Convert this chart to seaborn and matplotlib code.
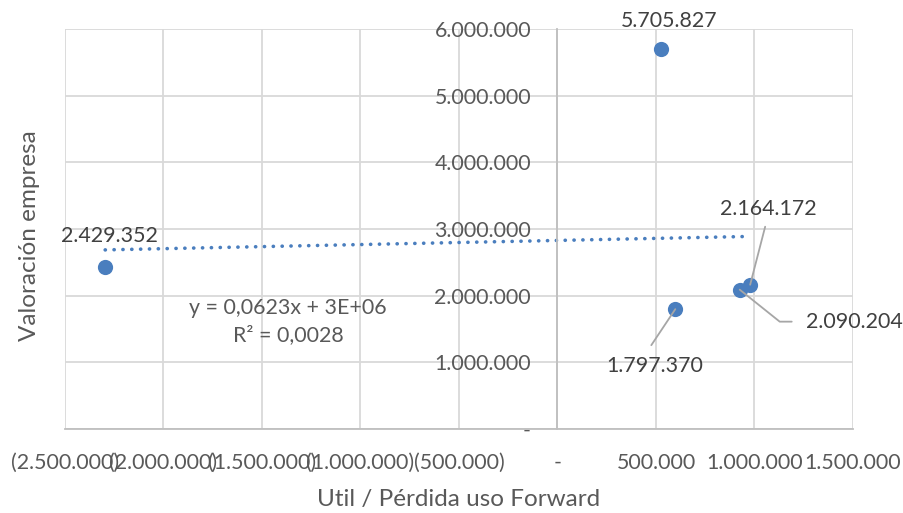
import numpy as np
import pandas as pd
import matplotlib
matplotlib.use("Agg")
import matplotlib.pyplot as plt
from matplotlib.lines import Line2D
import seaborn as sns
from matplotlib.ticker import FixedLocator, FuncFormatter

sns.set_theme(style="white")
plt.rcParams["font.family"] = ["Lato", "DejaVu Sans"]

# Data: forward-contract gain/loss vs. company valuation
util_forward = [-2296000, 524500, 598000, 925000, 978000]
valoracion = [2429352, 5705827, 1797370, 2090204, 2164172]
etiquetas = ["2.429.352", "5.705.827", "1.797.370", "2.090.204", "2.164.172"]

x_ticks = [-2500000, -2000000, -1500000, -1000000, -500000, 0, 500000, 1000000, 1500000]
y_ticks = [0, 1000000, 2000000, 3000000, 4000000, 5000000, 6000000]

df = pd.DataFrame({"x": util_forward, "y": valoracion})

TEXT = "#595959"
LABEL = "#404040"
GRID = "#D9D9D9"
LEADER = "#A6A6A6"
BLUE = "#4A7EBE"
FS = 15.4


def fmt_num(v, _pos=None):
    if v == 0:
        return "-"
    s = f"{abs(int(round(v))):,}".replace(",", ".")
    return f"({s})" if v < 0 else s


fig = plt.figure(figsize=(9.04, 5.13), dpi=100)
ax = fig.add_axes([65 / 904, 1 - 429 / 513, (853 - 65) / 904, (429 - 29) / 513])

ax.set_xlim(-2500000, 1500000)
ax.set_ylim(0, 6000000)
ax.xaxis.set_major_locator(FixedLocator(x_ticks))
ax.yaxis.set_major_locator(FixedLocator(y_ticks))
ax.grid(True, color=GRID, linewidth=1.3)
ax.set_axisbelow(True)

for side in ["top", "right"]:
    ax.spines[side].set_visible(False)
ax.spines["left"].set_position(("data", 0))
ax.spines["left"].set_color("#BFBFBF")
ax.spines["left"].set_linewidth(1.3)
ax.spines["bottom"].set_color("#BFBFBF")
ax.spines["bottom"].set_linewidth(1.3)

ax.xaxis.set_major_formatter(FuncFormatter(fmt_num))
ax.yaxis.set_major_formatter(FuncFormatter(fmt_num))
ax.tick_params(axis="both", length=0, labelsize=FS, labelcolor=TEXT)
ax.tick_params(axis="x", pad=17)
ax.tick_params(axis="y", pad=19)

# Linear trendline
slope, intercept = np.polyfit(df["x"], df["y"], 1)
xs = np.array([min(util_forward), max(util_forward)])
ax.plot(xs, slope * xs + intercept, color=BLUE, linewidth=2.6,
        linestyle=(0, (0.05, 2.4)), dash_capstyle="round", zorder=2)

sns.scatterplot(data=df, x="x", y="y", ax=ax, color=BLUE, s=120,
                edgecolor=BLUE, linewidth=0, zorder=3, clip_on=False)

ax.set_xlabel("Util / Pérdida uso Forward", fontsize=17.5, color=TEXT, labelpad=12)
ax.set_ylabel("")
fig.text(30 / 904, 1 - 236 / 513, "Valoración empresa", rotation=90,
         fontsize=17.5, color=TEXT, ha="center", va="center")


def px(i):
    return ax.transData.transform((util_forward[i], valoracion[i]))


def leader(i, offsets):
    """Leader line from a point through pixel offsets (dx, dy)."""
    base = px(i)
    pts = [base] + [base + np.array(o) for o in offsets]
    fpts = fig.transFigure.inverted().transform(pts)
    fig.add_artist(Line2D(fpts[:, 0], fpts[:, 1], color=LEADER, lw=1.3,
                          transform=fig.transFigure, zorder=2.5))


def label(i, dx, dy, ha="center"):
    base = px(i)
    fx, fy = fig.transFigure.inverted().transform(base + np.array([dx, dy]))
    fig.text(fx, fy, etiquetas[i], ha=ha, va="center", fontsize=FS, color=LABEL)


# Data labels (offsets in pixels)
label(0, 4, 31)
label(1, 8, 28)
label(2, -21, -57)
leader(2, [(-24, -36)])
label(4, 18, 76)
leader(4, [(15, 58)])
label(3, 66, -32, ha="left")
leader(3, [(40, -32), (52, -32)])

# Trendline equation
ax.text(-1368000, 1607000, "y = 0,0623x + 3E+06\nR² = 0,0028", ha="center",
        va="center", fontsize=FS, color=TEXT, linespacing=1.45)

fig.savefig("out.png", dpi=100, facecolor="white")
